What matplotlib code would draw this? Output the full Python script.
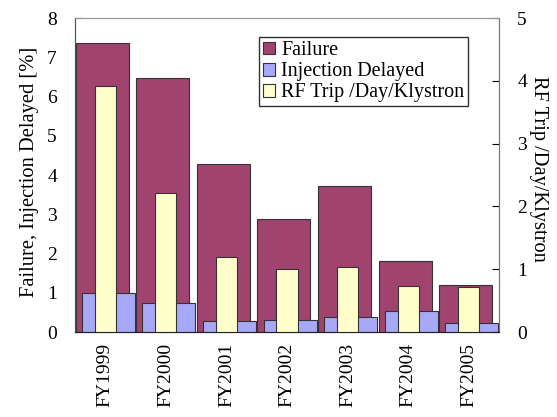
import numpy as np
import matplotlib
matplotlib.use("Agg")
import matplotlib.pyplot as plt

plt.rcParams['font.family'] = ['Liberation Serif', 'DejaVu Serif']

years = ['FY1999', 'FY2000', 'FY2001', 'FY2002', 'FY2003', 'FY2004', 'FY2005']
failure = [7.37, 6.46, 4.28, 2.88, 3.72, 1.81, 1.21]
inj_delayed = [1.00, 0.75, 0.29, 0.31, 0.39, 0.54, 0.24]
rf_trip = [3.91, 2.22, 1.19, 1.00, 1.03, 0.73, 0.72]

x = np.arange(len(years))

fig = plt.figure(figsize=(5.57, 4.17), dpi=100)
ax = fig.add_axes([0.1346, 0.2038, 0.896 - 0.1346, 0.9568 - 0.2038])
ax2 = ax.twinx()

w = 0.875
b1 = ax.bar(x - 0.05, failure, w, color='#A0436F', edgecolor='#333333', linewidth=0.8,
            label='Failure', zorder=2)
b2 = ax.bar(x + 0.05, inj_delayed, w, color='#A8A8F8', edgecolor='#333333', linewidth=0.8,
            label='Injection Delayed', zorder=3)
b3 = ax2.bar(x, rf_trip, 0.35, color='#FFFFCC', edgecolor='#333333', linewidth=0.8,
             label='RF Trip /Day/Klystron', zorder=4)

ax.set_xlim(-0.5, len(years) - 0.5)
ax.set_ylim(0, 8)
ax2.set_ylim(0, 5)
ax.set_yticks(range(0, 9))
ax2.set_yticks(range(0, 6))

ax.set_xticks(x)
ax.set_xticklabels(years, rotation=90, fontsize=14)
ax.tick_params(axis='x', length=0, pad=8)
ax.tick_params(axis='y', direction='in', length=5, labelsize=14, pad=13)
ax2.tick_params(axis='y', direction='in', length=5, labelsize=14, pad=13)

ax.set_ylabel('Failure, Injection Delayed [%]', fontsize=14.8)
ax.yaxis.set_label_coords(-0.085, 0.51)
ax2.set_ylabel('RF Trip /Day/Klystron', fontsize=14.7, rotation=270, va='center')
ax2.yaxis.set_label_coords(1.094, 0.52)

for a in (ax, ax2):
    a.spines['top'].set_color('#999999')
    a.spines['right'].set_color('#777777')
    a.spines['left'].set_color('#555555')
    a.spines['bottom'].set_color('#222222')

ax.legend([b1, b2, b3], ['Failure', 'Injection Delayed', 'RF Trip /Day/Klystron'],
          loc='upper left', bbox_to_anchor=(0.434, 0.939), fontsize=14.5,
          frameon=True, fancybox=False, edgecolor='#333333', framealpha=1,
          handlelength=0.6, handleheight=0.6, handletextpad=0.3,
          borderpad=0.2, labelspacing=0.1, borderaxespad=0)

fig.savefig('out.png', dpi=100)
